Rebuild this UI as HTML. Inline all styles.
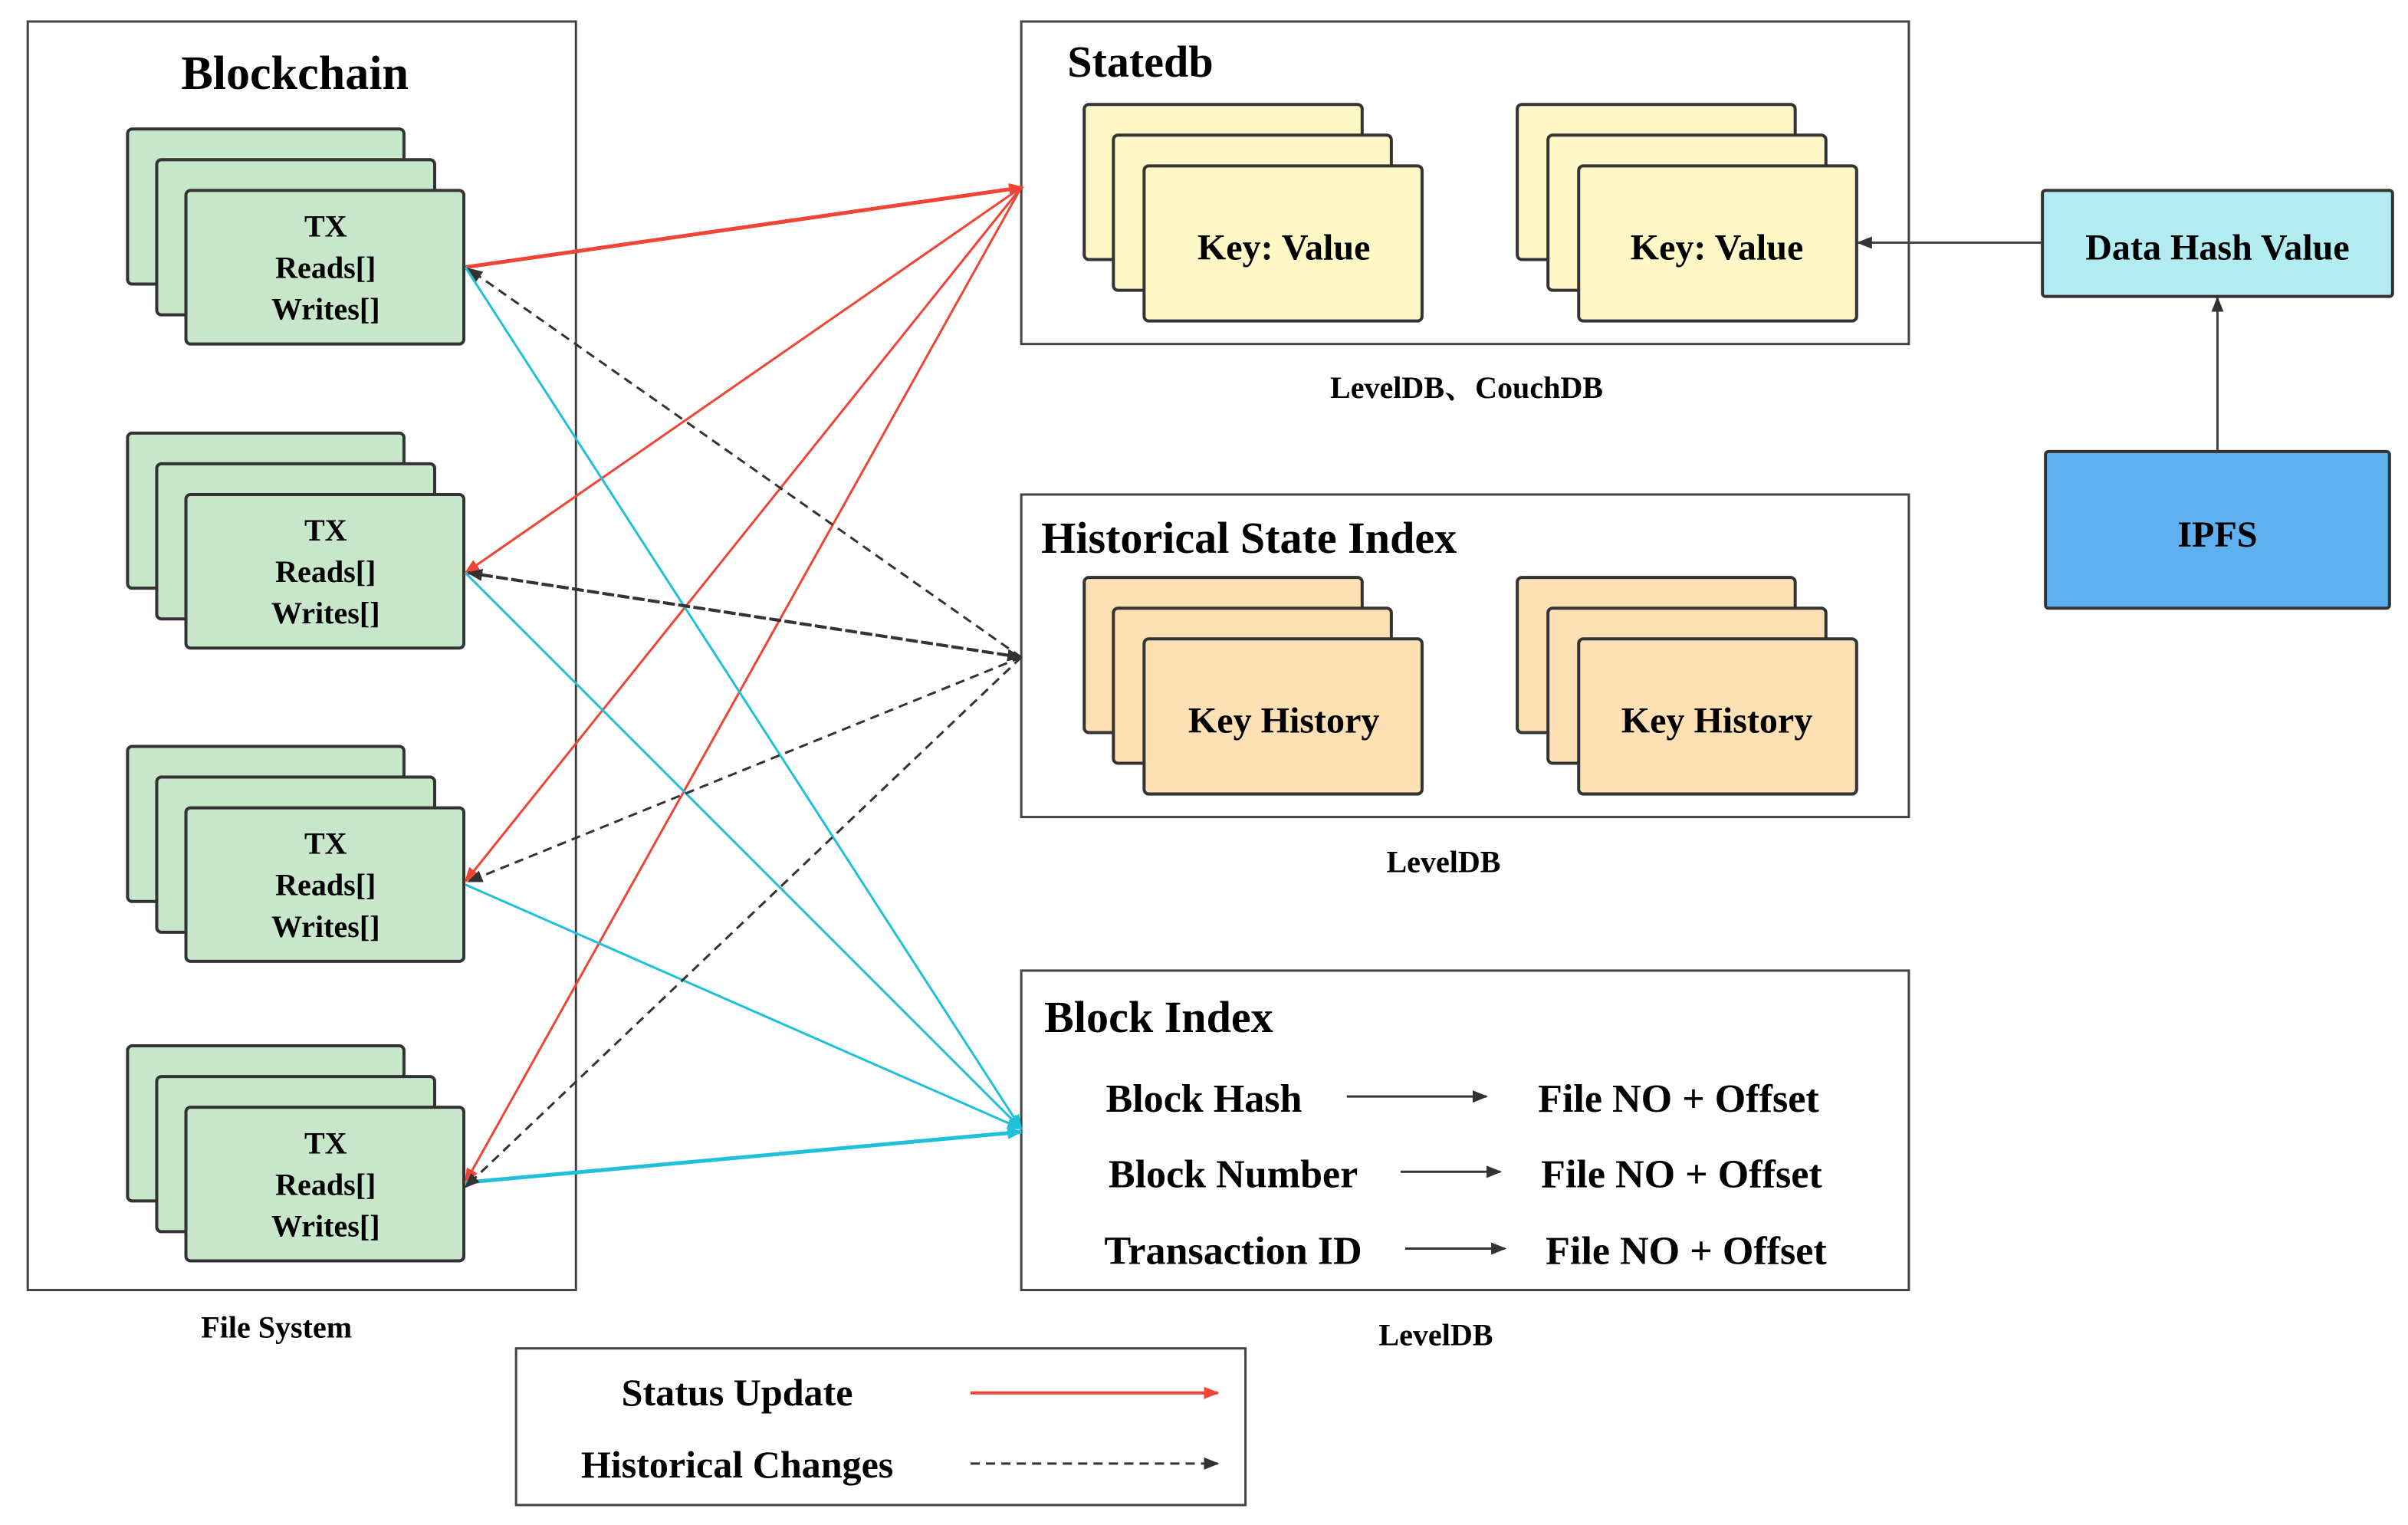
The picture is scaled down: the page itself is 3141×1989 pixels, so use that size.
<!DOCTYPE html>
<html><head><meta charset="utf-8"><style>html,body{margin:0;padding:0;background:#fff}svg{display:block}svg text{font-family:"Liberation Serif","Noto Serif CJK SC",serif;font-weight:bold}</style></head>
<body>
<svg width="3141" height="1989" viewBox="0 0 1568 993" xmlns="http://www.w3.org/2000/svg">
<defs>
<marker id="ar" markerWidth="10" markerHeight="8" refX="9" refY="4" orient="auto" markerUnits="userSpaceOnUse"><path d="M0,0 L10,4 L0,8 z" fill="#f04535"/></marker>
<marker id="ad" markerWidth="10" markerHeight="8" refX="9" refY="4" orient="auto" markerUnits="userSpaceOnUse"><path d="M0,0 L10,4 L0,8 z" fill="#333"/></marker>
<marker id="ac" markerWidth="10" markerHeight="8" refX="9" refY="4" orient="auto" markerUnits="userSpaceOnUse"><path d="M0,0 L10,4 L0,8 z" fill="#1ec0da"/></marker>
<g id="tx">
<rect x="0" y="0" width="180" height="101" rx="3" fill="#c8e6c9" stroke="#333" stroke-width="2"/>
<rect x="19" y="20" width="181" height="101" rx="3" fill="#c8e6c9" stroke="#333" stroke-width="2"/>
<rect x="38" y="40" width="181" height="100" rx="3" fill="#c8e6c9" stroke="#333" stroke-width="2"/>
<text x="129" y="70" font-size="20" text-anchor="middle">TX</text>
<text x="129" y="97" font-size="20" text-anchor="middle">Reads[]</text>
<text x="129" y="124" font-size="20" text-anchor="middle">Writes[]</text>
</g>
</defs>
<rect x="18" y="14" width="357" height="826" fill="none" stroke="#444" stroke-width="1.5"/>
<text x="192" y="58" font-size="31" text-anchor="middle">Blockchain</text>
<use href="#tx" x="83" y="84"/>
<use href="#tx" x="83" y="282"/>
<use href="#tx" x="83" y="486"/>
<use href="#tx" x="83" y="681"/>
<text x="180" y="871" font-size="20" text-anchor="middle">File System</text>

<rect x="665" y="14" width="578" height="210" fill="none" stroke="#444" stroke-width="1.5"/>
<text x="695" y="50" font-size="29">Statedb</text>
<g fill="#fdf8c6" stroke="#333" stroke-width="2">
<rect x="706" y="68" width="181" height="101" rx="3"/><rect x="725" y="88" width="181" height="101" rx="3"/><rect x="745" y="108" width="181" height="101" rx="3"/>
<rect x="988" y="68" width="181" height="101" rx="3"/><rect x="1008" y="88" width="181" height="101" rx="3"/><rect x="1028" y="108" width="181" height="101" rx="3"/>
</g>
<text x="836" y="169" font-size="24" text-anchor="middle">Key: Value</text>
<text x="1118" y="169" font-size="24" text-anchor="middle">Key: Value</text>
<text x="955" y="259" font-size="20" text-anchor="middle">LevelDB、CouchDB</text>

<rect x="665" y="322" width="578" height="210" fill="none" stroke="#444" stroke-width="1.5"/>
<text x="678" y="360" font-size="29">Historical State Index</text>
<g fill="#fde0b4" stroke="#333" stroke-width="2">
<rect x="706" y="376" width="181" height="101" rx="3"/><rect x="725" y="396" width="181" height="101" rx="3"/><rect x="745" y="416" width="181" height="101" rx="3"/>
<rect x="988" y="376" width="181" height="101" rx="3"/><rect x="1008" y="396" width="181" height="101" rx="3"/><rect x="1028" y="416" width="181" height="101" rx="3"/>
</g>
<text x="836" y="477" font-size="24" text-anchor="middle">Key History</text>
<text x="1118" y="477" font-size="24" text-anchor="middle">Key History</text>
<text x="940" y="568" font-size="20" text-anchor="middle">LevelDB</text>

<rect x="665" y="632" width="578" height="208" fill="none" stroke="#444" stroke-width="1.5"/>
<text x="680" y="672" font-size="29">Block Index</text>
<g font-size="26">
<text x="784" y="724" text-anchor="middle">Block Hash</text>
<text x="1093" y="724" text-anchor="middle">File NO + Offset</text>
<text x="803" y="773" text-anchor="middle">Block Number</text>
<text x="1095" y="773" text-anchor="middle">File NO + Offset</text>
<text x="803" y="823" text-anchor="middle">Transaction ID</text>
<text x="1098" y="823" text-anchor="middle">File NO + Offset</text>
</g>
<g stroke="#333" stroke-width="1.5">
<line x1="877" y1="714" x2="968" y2="714" marker-end="url(#ad)"/>
<line x1="912" y1="763" x2="977" y2="763" marker-end="url(#ad)"/>
<line x1="915" y1="813" x2="980" y2="813" marker-end="url(#ad)"/>
</g>
<text x="935" y="876" font-size="20" text-anchor="middle">LevelDB</text>

<rect x="336" y="878" width="475" height="102" fill="none" stroke="#444" stroke-width="1.5"/>
<text x="480" y="915" font-size="25" text-anchor="middle">Status Update</text>
<text x="480" y="962" font-size="25" text-anchor="middle">Historical Changes</text>
<line x1="632" y1="907" x2="793" y2="907" stroke="#f04535" stroke-width="2" marker-end="url(#ar)"/>
<line x1="632" y1="953" x2="793" y2="953" stroke="#333" stroke-width="1.5" stroke-dasharray="6,4" marker-end="url(#ad)"/>

<rect x="1330" y="124" width="228" height="69" rx="2" fill="#b2ebf0" stroke="#333" stroke-width="2"/>
<text x="1444" y="169" font-size="24" text-anchor="middle">Data Hash Value</text>
<rect x="1332" y="294" width="224" height="102" rx="2" fill="#5eb0ee" stroke="#333" stroke-width="2"/>
<text x="1444" y="356" font-size="24" text-anchor="middle">IPFS</text>
<line x1="1330" y1="158" x2="1210" y2="158" stroke="#444" stroke-width="1.5" marker-end="url(#ad)"/>
<line x1="1444" y1="294" x2="1444" y2="194" stroke="#444" stroke-width="1.5" marker-end="url(#ad)"/>

<g stroke="#f04535" fill="none">
<line x1="303" y1="174" x2="666" y2="122" stroke-width="2.5" marker-end="url(#ar)"/>
<line x1="665" y1="122" x2="303" y2="373" stroke-width="1.5" marker-end="url(#ar)"/>
<line x1="665" y1="122" x2="303" y2="574" stroke-width="1.5" marker-end="url(#ar)"/>
<line x1="665" y1="122" x2="303" y2="770" stroke-width="1.5" marker-end="url(#ar)"/>
</g>
<g stroke="#1ec0da" fill="none" stroke-width="1.5">
<line x1="303" y1="174" x2="665" y2="735" marker-end="url(#ac)"/>
<line x1="303" y1="373" x2="665" y2="735" marker-end="url(#ac)"/>
<line x1="303" y1="576" x2="665" y2="735" marker-end="url(#ac)"/>
<line x1="303" y1="770" x2="665" y2="737" stroke-width="2.5" marker-end="url(#ac)"/>
</g>
<g stroke="#333" fill="none" stroke-width="1.5" stroke-dasharray="6,4">
<line x1="665" y1="428" x2="305" y2="175" marker-end="url(#ad)"/>
<line x1="665" y1="428" x2="305" y2="373" stroke-width="2" marker-end="url(#ad)"/>
<line x1="305" y1="373" x2="665" y2="428" stroke-width="2" marker-end="url(#ad)"/>
<line x1="665" y1="428" x2="305" y2="574" marker-end="url(#ad)"/>
<line x1="665" y1="428" x2="303" y2="773" marker-end="url(#ad)"/>
</g>
</svg>
</body></html>
